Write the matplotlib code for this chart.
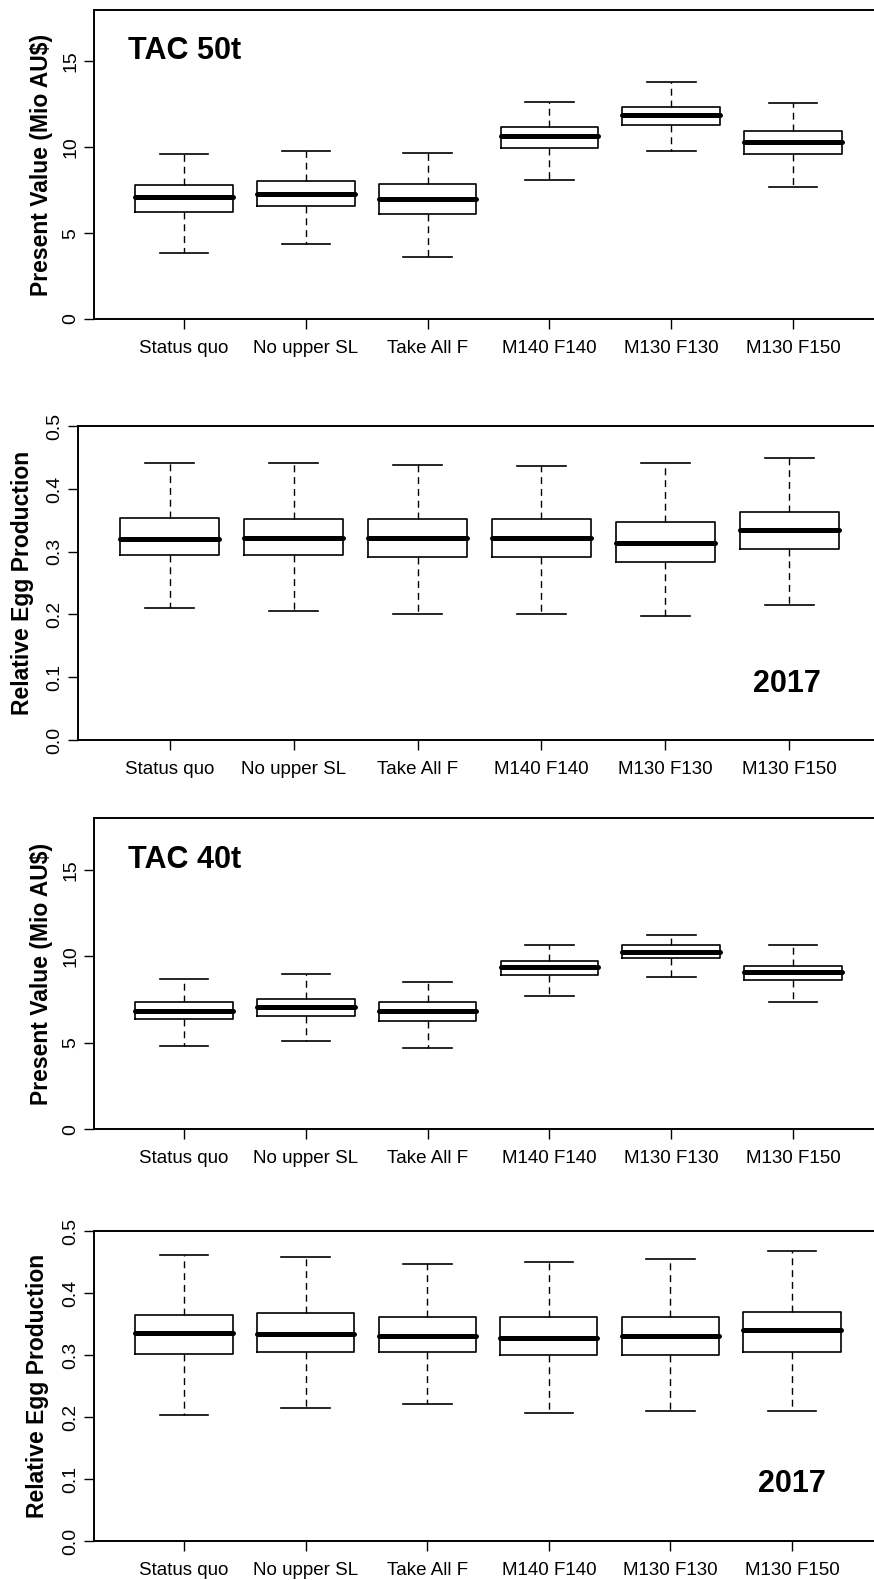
import matplotlib
matplotlib.use("Agg")
import matplotlib.pyplot as plt

plt.rcParams['font.family'] = ['Liberation Sans', 'DejaVu Sans']

SCENARIOS = ["Status quo", "No upper SL", "Take All F", "M140 F140", "M130 F130", "M130 F150"]

# TAC 50t - present value (Mio AU$)
pv50_whislo = [3.84, 4.38, 3.64, 8.12, 9.77, 7.67]
pv50_q1     = [6.22, 6.57, 6.10, 9.94, 11.28, 9.59]
pv50_med    = [7.09, 7.29, 7.01, 10.66, 11.86, 10.29]
pv50_q3     = [7.79, 8.02, 7.85, 11.20, 12.33, 10.93]
pv50_whishi = [9.59, 9.79, 9.67, 12.66, 13.78, 12.60]

# TAC 50t - relative egg production 2017
egg50_whislo = [0.210, 0.205, 0.201, 0.201, 0.198, 0.215]
egg50_q1     = [0.294, 0.294, 0.291, 0.291, 0.283, 0.305]
egg50_med    = [0.321, 0.322, 0.322, 0.322, 0.314, 0.334]
egg50_q3     = [0.353, 0.352, 0.352, 0.352, 0.348, 0.363]
egg50_whishi = [0.441, 0.441, 0.438, 0.436, 0.441, 0.449]

# TAC 40t - present value (Mio AU$)
pv40_whislo = [4.80, 5.08, 4.72, 7.71, 8.83, 7.35]
pv40_q1     = [6.35, 6.55, 6.26, 8.91, 9.90, 8.62]
pv40_med    = [6.81, 7.08, 6.81, 9.37, 10.25, 9.10]
pv40_q3     = [7.35, 7.52, 7.35, 9.71, 10.63, 9.44]
pv40_whishi = [8.71, 8.98, 8.52, 10.63, 11.24, 10.63]

# TAC 40t - relative egg production 2017
egg40_whislo = [0.203, 0.214, 0.221, 0.206, 0.209, 0.209]
egg40_q1     = [0.302, 0.305, 0.305, 0.300, 0.300, 0.305]
egg40_med    = [0.335, 0.334, 0.331, 0.328, 0.331, 0.341]
egg40_q3     = [0.364, 0.367, 0.362, 0.362, 0.362, 0.370]
egg40_whishi = [0.461, 0.458, 0.447, 0.450, 0.455, 0.468]

PV_LABEL = "Present Value (Mio AU$)"
EGG_LABEL = "Relative Egg Production"


def make_stats(lo, q1, med, q3, hi):
    return [dict(whislo=a, q1=b, med=c, q3=d, whishi=e, fliers=[])
            for a, b, c, d, e in zip(lo, q1, med, q3, hi)]


def draw_panel(fig, rect, stats, ylim, yticks, yticklabels, ylabel, ylabel_x):
    ax = fig.add_axes(rect)
    ax.bxp(stats, positions=range(1, 7), widths=0.8, showfliers=False,
           boxprops=dict(color="black", linewidth=1.2),
           medianprops=dict(color="black", linewidth=3.6, solid_capstyle="round"),
           whiskerprops=dict(color="black", linewidth=1.0, linestyle=(0, (5, 3.5))),
           capprops=dict(color="black", linewidth=1.2))
    ax.set_xlim(0.26, 6.74)
    ax.set_ylim(*ylim)
    ax.set_xticks(range(1, 7))
    ax.set_xticklabels(SCENARIOS, fontsize=13.5)
    ax.set_yticks(yticks)
    ax.set_yticklabels(yticklabels, fontsize=14, rotation=90, va="center")
    ax.tick_params(axis="x", length=7.5, width=1.0, pad=7.5)
    ax.tick_params(axis="y", length=7.5, width=1.0, pad=3)
    for s in ax.spines.values():
        s.set_linewidth(1.4)
    fig.text(ylabel_x, rect[1] + rect[3] / 2, ylabel, rotation=90,
             ha="center", va="center", fontsize=16.5, fontweight="bold")
    return ax


fig = plt.figure(figsize=(8.74, 15.8), dpi=100)

ax1 = draw_panel(fig, [0.1076, 0.7981, 0.9027, 0.1956],
                 make_stats(pv50_whislo, pv50_q1, pv50_med, pv50_q3, pv50_whishi),
                 (0, 18), [0, 5, 10, 15], ["0", "5", "10", "15"],
                 PV_LABEL, 42 / 874)
ax1.text(0.54, 15.16, "TAC 50t", ha="left", va="baseline", fontsize=22, fontweight="bold")

ax2 = draw_panel(fig, [0.0892, 0.5316, 0.9188, 0.1987],
                 make_stats(egg50_whislo, egg50_q1, egg50_med, egg50_q3, egg50_whishi),
                 (0, 0.5), [0, 0.1, 0.2, 0.3, 0.4, 0.5],
                 ["0.0", "0.1", "0.2", "0.3", "0.4", "0.5"],
                 EGG_LABEL, 23 / 874)
ax2.text(5.98, 0.077, "2017", ha="center", va="baseline", fontsize=22, fontweight="bold")

ax3 = draw_panel(fig, [0.1076, 0.2854, 0.9027, 0.1968],
                 make_stats(pv40_whislo, pv40_q1, pv40_med, pv40_q3, pv40_whishi),
                 (0, 18), [0, 5, 10, 15], ["0", "5", "10", "15"],
                 PV_LABEL, 42 / 874)
ax3.text(0.54, 15.1, "TAC 40t", ha="left", va="baseline", fontsize=22, fontweight="bold")

ax4 = draw_panel(fig, [0.1076, 0.0247, 0.9016, 0.1962],
                 make_stats(egg40_whislo, egg40_q1, egg40_med, egg40_q3, egg40_whishi),
                 (0, 0.5), [0, 0.1, 0.2, 0.3, 0.4, 0.5],
                 ["0.0", "0.1", "0.2", "0.3", "0.4", "0.5"],
                 EGG_LABEL, 38 / 874)
ax4.text(6.0, 0.0785, "2017", ha="center", va="baseline", fontsize=22, fontweight="bold")

fig.savefig("out.png", dpi=100)
